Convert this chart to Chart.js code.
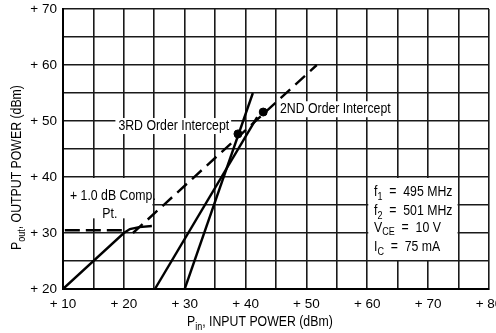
<!DOCTYPE html>
<html>
<head>
<meta charset="utf-8">
<script src="https://cdn.jsdelivr.net/npm/chart.js@4/dist/chart.umd.min.js"></script>
<style>
  html, body { margin: 0; padding: 0; background: #fff; }
  #wrap { width: 496px; height: 333px; }
</style>
</head>
<body>
<div id="wrap"><canvas id="grafica" width="496" height="333"></canvas></div>
<script>
// Datos (dBm)
const fundX = [10, 20, 21, 22.5, 24.6];
const fundY = [20, 30, 30.7, 31.05, 31.25];
const extrapX = [21.5, 51.7];
const extrapY = [30.0, 60.0];
const compX = [10.3, 20.5];
const compY = [30.5, 30.5];
const orden2X = [25.1, 41.9];
const orden2Y = [20, 50.7];
const orden3X = [30, 41.2];
const orden3Y = [20, 55];
const interceptX = [38.75, 42.9];
const interceptY = [47.7, 51.6];
const xTicks = [10, 20, 30, 40, 50, 60, 70, 80];
const yTicks = [20, 30, 40, 50, 60, 70];
const condiciones = [
  ['f', '1', '  =  495 MHz'],
  ['f', '2', '  =  501 MHz'],
  ['V', 'CE', '  =  10 V'],
  ['I', 'C', '  =  75 mA']
];

const FUENTE = "'Liberation Sans', Arial, sans-serif";
const ANGOSTO = 0.82; // la fuente original es condensada

function puntos(xs, ys) {
  return xs.map((x, i) => ({ x: x, y: ys[i] }));
}

function linea(xs, ys, dash) {
  return {
    data: puntos(xs, ys),
    showLine: true,
    borderColor: '#000',
    borderWidth: 2.4,
    borderDash: dash || [],
    pointRadius: 0,
    fill: false
  };
}

// texto condensado, con subindice opcional; devuelve el ancho
function texto(ctx, x, y, partes, size, align) {
  const sizes = [size, Math.round(size * 0.75), size];
  const dy = [0, size * 0.3, 0];
  let ancho = 0;
  partes.forEach((p, i) => {
    ctx.font = sizes[i] + 'px ' + FUENTE;
    ancho += ctx.measureText(p).width;
  });
  ctx.save();
  ctx.translate(x, y);
  ctx.scale(ANGOSTO, 1);
  ctx.textAlign = 'left';
  let cx = 0;
  if (align === 'right') cx = -ancho;
  if (align === 'center') cx = -ancho / 2;
  partes.forEach((p, i) => {
    ctx.font = sizes[i] + 'px ' + FUENTE;
    ctx.fillText(p, cx, dy[i]);
    cx += ctx.measureText(p).width;
  });
  ctx.restore();
  return ancho * ANGOSTO;
}

const notas = {
  id: 'notas',
  beforeDatasetsDraw(chart) {
    const { ctx, scales: { x, y } } = chart;
    ctx.save();
    ctx.fillStyle = '#fff';
    // cajas blancas
    ctx.fillRect(x.getPixelForValue(10) + 1, y.getPixelForValue(40) + 1,
      x.getPixelForValue(24.7) - x.getPixelForValue(10) - 1,
      y.getPixelForValue(32.8) - y.getPixelForValue(40));
    ctx.fillRect(x.getPixelForValue(60) + 1, y.getPixelForValue(40) + 1,
      x.getPixelForValue(75) - x.getPixelForValue(60) - 2,
      y.getPixelForValue(25) - y.getPixelForValue(40) - 2);

    ctx.textBaseline = 'middle';
    // 3RD
    let px = x.getPixelForValue(37.3), py = y.getPixelForValue(49.1);
    ctx.font = '15px ' + FUENTE;
    let w = ctx.measureText('3RD Order Intercept').width * ANGOSTO;
    ctx.fillStyle = '#fff';
    ctx.fillRect(px - w - 3, py - 8, w + 5, 16);
    ctx.fillStyle = '#000';
    texto(ctx, px, py, ['3RD Order Intercept'], 15, 'right');
    // 2ND
    px = x.getPixelForValue(45.65); py = y.getPixelForValue(52.1);
    w = ctx.measureText('2ND Order Intercept').width * ANGOSTO;
    ctx.fillStyle = '#fff';
    ctx.fillRect(px - 3, py - 8, w + 5, 16);
    ctx.fillStyle = '#000';
    texto(ctx, px, py, ['2ND Order Intercept'], 15, 'left');
    // 1 dB
    texto(ctx, x.getPixelForValue(11.15), y.getPixelForValue(36.6), ['+ 1.0 dB Comp.'], 15, 'left');
    texto(ctx, x.getPixelForValue(17.7), y.getPixelForValue(33.4), ['Pt.'], 15, 'center');
    // condiciones
    const cy = [37.3, 33.9, 30.9, 27.5];
    condiciones.forEach((c, i) => {
      texto(ctx, x.getPixelForValue(61.1), y.getPixelForValue(cy[i]), c, 15, 'left');
    });
    ctx.restore();
  },
  afterDraw(chart) {
    const { ctx } = chart;
    ctx.save();
    ctx.fillStyle = '#000';
    ctx.textBaseline = 'middle';
    // titulo x
    texto(ctx, 187, 322, ['P', 'in', ', INPUT POWER (dBm)'], 15, 'left');
    // titulo y
    ctx.translate(17, 250);
    ctx.rotate(-Math.PI / 2);
    texto(ctx, 0, 0, ['P', 'out', ', OUTPUT POWER (dBm)'], 15, 'left');
    ctx.restore();
  }
};

const ctx = document.getElementById('grafica').getContext('2d');
new Chart(ctx, {
  type: 'scatter',
  data: {
    datasets: [
      linea(fundX, fundY),
      linea(compX, compY, [15, 6]),
      linea(extrapX, extrapY, [13, 7]),
      linea(orden2X, orden2Y),
      linea(orden3X, orden3Y),
      {
        data: puntos(interceptX, interceptY),
        pointRadius: 4,
        pointBackgroundColor: '#000',
        pointBorderColor: '#000',
        showLine: false
      }
    ]
  },
  options: {
    responsive: false,
    animation: false,
    devicePixelRatio: 1,
    layout: { padding: { top: 9, right: 7, left: 0, bottom: 0 } },
    plugins: { legend: { display: false }, tooltip: { enabled: false } },
    scales: {
      x: {
        type: 'linear', min: 10, max: 80,
        afterFit(s) { s.height = 44; s.paddingLeft = 0; s.paddingRight = 0; },
        ticks: {
          stepSize: 5, autoSkip: false, maxRotation: 0, padding: 7,
          color: '#000', font: { family: FUENTE, size: 13.5 },
          callback: v => xTicks.includes(v) ? '+ ' + v : ''
        },
        grid: { color: '#1a1a1a', lineWidth: 1.6, drawTicks: false },
        border: { color: '#000', width: 2 }
      },
      y: {
        type: 'linear', min: 20, max: 70,
        afterFit(s) { s.width = 63; s.paddingTop = 0; s.paddingBottom = 0; },
        ticks: {
          stepSize: 5, autoSkip: false, padding: 6,
          color: '#000', font: { family: FUENTE, size: 13.5 },
          callback: v => yTicks.includes(v) ? '+ ' + v : ''
        },
        grid: { color: '#1a1a1a', lineWidth: 1.6, drawTicks: false },
        border: { color: '#000', width: 2 }
      }
    }
  },
  plugins: [notas]
});
</script>
</body>
</html>
